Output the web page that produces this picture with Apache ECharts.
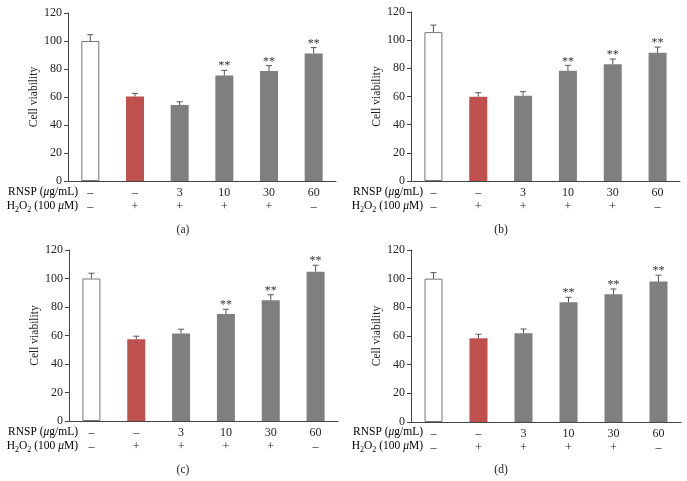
<!DOCTYPE html>
<html>
<head>
<meta charset="utf-8">
<script src="https://cdn.jsdelivr.net/npm/echarts@6/dist/echarts.min.js"></script>
<style>
html, body { margin: 0; padding: 0; background: #fff; }
#chart { width: 687px; height: 481px; }
</style>
</head>
<body>
<div id="chart"></div>
<script>
// treatment rows under each panel
const rnspDose = ['–', '–', '3', '10', '30', '60']
const h2o2Flag = ['–', '+', '+', '+', '+', '–']
const yTicks = [0, 20, 40, 60, 80, 100, 120]

// cell viability (%) and upper error, one pair per panel
const viabilityA = [100, 60.4, 54.2, 75.3, 78.6, 91]
const errorA = [4.5, 2.2, 2.4, 3.8, 3.8, 4.3]
const viabilityB = [105.7, 59.9, 60.6, 78.3, 82.9, 91]
const errorB = [5, 2.8, 2.8, 3.8, 3.7, 4.1]
const viabilityC = [100, 57.3, 61.4, 75.1, 84.7, 104.7]
const errorC = [3.7, 2.2, 3, 3.3, 3.9, 4.6]
const viabilityD = [100, 58.4, 61.9, 83.5, 89.1, 98]
const errorD = [4.2, 2.8, 3, 3.5, 3.7, 4.4]
const significance = ['', '', '', '**', '**', '**']
const panelNames = ['(a)', '(b)', '(c)', '(d)']

const FONT = '"Liberation Serif", "DejaVu Serif", serif'
const barColors = ['#ffffff', '#c0504d', '#7f7f7f', '#7f7f7f', '#7f7f7f', '#7f7f7f']

const panels = [
  { values: viabilityA, errors: errorA, grid: { left: 68, top: 13, width: 268, height: 168 }, labelX: 78, panelX: 183, rowY: 193, nameY: 230 },
  { values: viabilityB, errors: errorB, grid: { left: 411, top: 12, width: 269, height: 169 }, labelX: 423, panelX: 501, rowY: 193, nameY: 230 },
  { values: viabilityC, errors: errorC, grid: { left: 69, top: 250, width: 269, height: 171 }, labelX: 78, panelX: 183, rowY: 433, nameY: 470 },
  { values: viabilityD, errors: errorD, grid: { left: 411, top: 250, width: 270, height: 172 }, labelX: 423, panelX: 501, rowY: 433, nameY: 470 }
]

const textRich = {
  n: { fontFamily: FONT, fontSize: 11.5, color: '#222', lineHeight: 14, verticalAlign: 'bottom' },
  i: { fontFamily: FONT, fontSize: 11.5, fontStyle: 'italic', color: '#222', lineHeight: 14, verticalAlign: 'bottom' },
  s: { fontFamily: FONT, fontSize: 8, color: '#222', lineHeight: 10, verticalAlign: 'bottom', padding: [0, 0, -2, 0] }
}

const grid = []
const xAxis = []
const yAxis = []
const series = []
const graphic = []

panels.forEach((p, k) => {
  grid.push(p.grid)
  xAxis.push({
    type: 'category',
    gridIndex: k,
    data: rnspDose.map((d, i) => d + '\n' + h2o2Flag[i]),
    axisLine: { lineStyle: { color: '#444', width: 1 } },
    axisTick: { show: false },
    axisLabel: { interval: 0, margin: 5, lineHeight: 14, fontFamily: FONT, fontSize: 12, color: '#222' }
  })
  yAxis.push({
    type: 'value',
    gridIndex: k,
    min: yTicks[0],
    max: yTicks[yTicks.length - 1],
    interval: yTicks[1] - yTicks[0],
    name: 'Cell viability',
    nameLocation: 'middle',
    nameGap: 27,
    nameTextStyle: { fontFamily: FONT, fontSize: 11.5, color: '#222' },
    axisLine: { show: true, lineStyle: { color: '#444', width: 1 } },
    axisTick: { show: true, length: 4, lineStyle: { color: '#444' } },
    splitLine: { show: false },
    axisLabel: { margin: 6, fontFamily: FONT, fontSize: 12, color: '#222' }
  })
  series.push({
    type: 'bar',
    xAxisIndex: k,
    yAxisIndex: k,
    barWidth: 18,
    data: p.values.map((v, i) => ({
      value: v,
      itemStyle: { color: barColors[i], borderColor: i === 0 ? '#777' : barColors[i], borderWidth: i === 0 ? 1 : 0 }
    }))
  })
  series.push({
    type: 'custom',
    xAxisIndex: k,
    yAxisIndex: k,
    z: 5,
    data: p.values.map((v, i) => [i, v, p.errors[i]]),
    renderItem (params, api) {
      const x = api.value(0)
      const v = api.value(1)
      const e = api.value(2)
      const base = api.coord([x, v])
      const top = api.coord([x, v + e])
      const style = { stroke: '#555', lineWidth: 1 }
      const children = [
        { type: 'line', shape: { x1: base[0], y1: base[1], x2: top[0], y2: top[1] }, style },
        { type: 'line', shape: { x1: top[0] - 3, y1: top[1], x2: top[0] + 3, y2: top[1] }, style }
      ]
      const sig = significance[params.dataIndex]
      if (sig) {
        children.push({
          type: 'text',
          style: {
            text: sig,
            x: top[0],
            y: top[1] + 2,
            textAlign: 'center',
            textVerticalAlign: 'bottom',
            font: '12px ' + FONT,
            fill: '#333'
          }
        })
      }
      return { type: 'group', children }
    }
  })
  graphic.push({
    type: 'text',
    right: 687 - p.labelX,
    top: p.rowY - 7,
    style: {
      text: '{n|RNSP (}{i|μ}{n|g/mL)}',
      rich: textRich
    }
  })
  graphic.push({
    type: 'text',
    right: 687 - p.labelX,
    top: p.rowY + 7,
    style: {
      text: '{n|H}{s|2}{n|O}{s|2}{n| (100 }{i|μ}{n|M)}',
      rich: textRich
    }
  })
  graphic.push({
    type: 'text',
    x: p.panelX,
    y: p.nameY,
    style: {
      text: panelNames[k],
      textAlign: 'center',
      textVerticalAlign: 'middle',
      font: '11.5px ' + FONT,
      fill: '#222'
    }
  })
})

const chart = echarts.init(document.getElementById('chart'))
chart.setOption({
  backgroundColor: '#fff',
  animation: false,
  grid,
  xAxis,
  yAxis,
  series,
  graphic
})
</script>
</body>
</html>
